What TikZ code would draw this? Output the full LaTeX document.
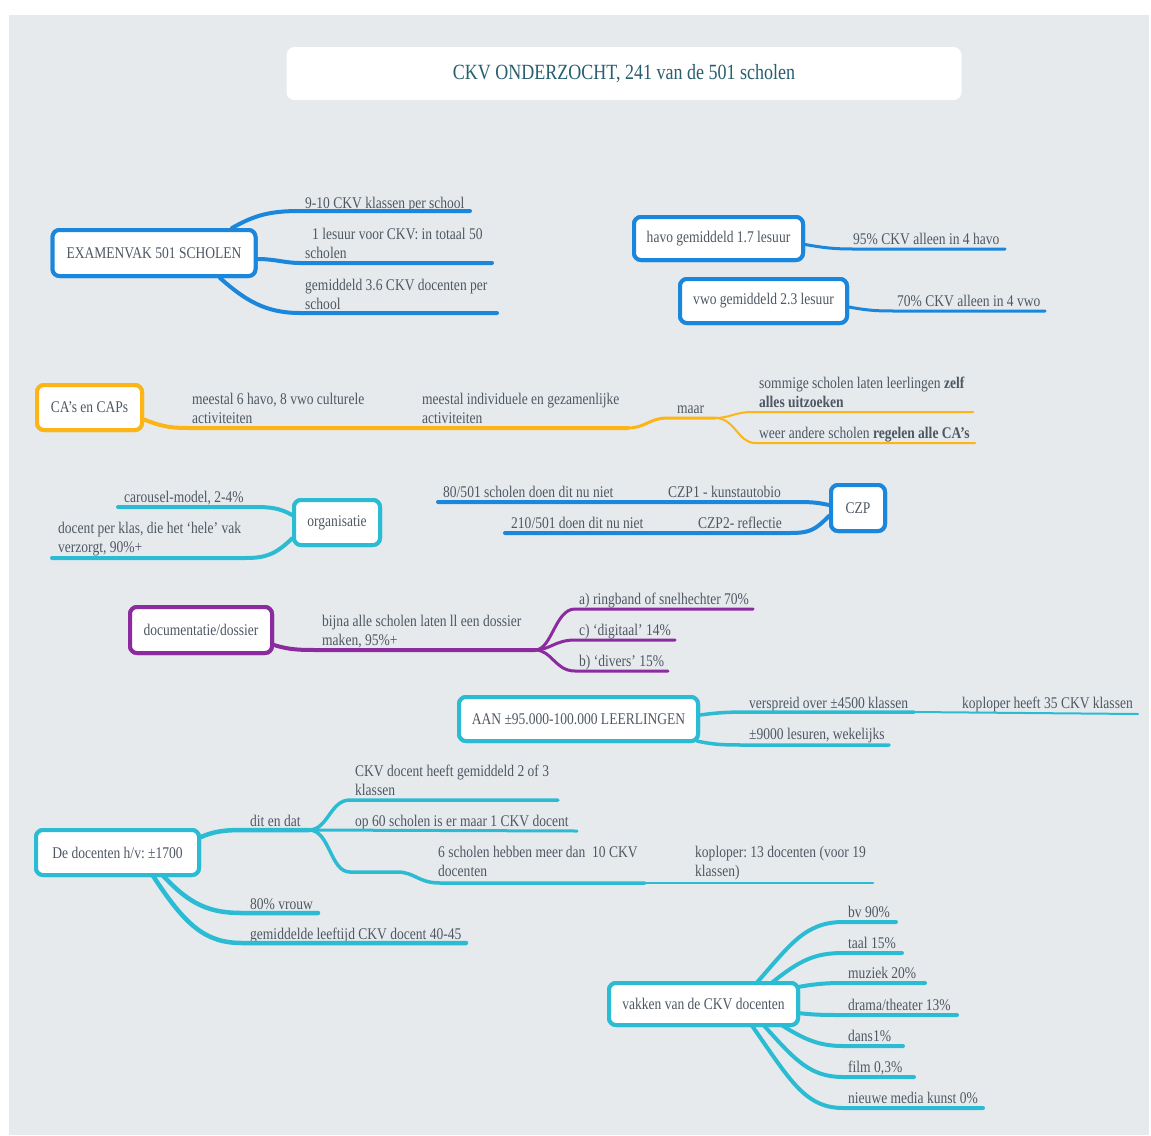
\documentclass[tikz,border=0pt]{standalone}
\usepackage{fontspec}
\setmainfont{Liberation Serif}[FakeStretch=0.83]
\frenchspacing
\definecolor{cblue}{RGB}{27,135,220}
\definecolor{corange}{RGB}{253,181,21}
\definecolor{cteal}{RGB}{43,188,212}
\definecolor{cpurple}{RGB}{139,43,159}
\definecolor{cbg}{RGB}{230,234,237}
\definecolor{ctxt}{RGB}{78,88,99}
\definecolor{ctitle}{RGB}{39,95,110}
\newcommand\fsz{\fontsize{16.3}{18.5}\selectfont\frenchspacing}
\newcommand\mylines[1]{\begin{tabular}[b]{@{}l@{}}#1\end{tabular}}
\tikzset{
  box/.style={draw=#1, line width=4pt, rounded corners=7pt, fill=white, text=ctxt, inner sep=0pt, font=\fsz},
  br/.style={draw=#1, line width=4pt, line cap=round},
  lbl/.style={anchor=base west, inner sep=0pt, text=ctxt, font=\fsz},
}
\begin{document}
\begin{tikzpicture}[x=1pt,y=-1pt]
\useasboundingbox (0,0) rectangle (1151,1135);
\fill[white] (0,0) rectangle (1151,1135);
\fill[cbg] (9,15) rectangle (1149,1135);

% title
\node[fill=white, rounded corners=8pt, minimum width=675pt, minimum height=53pt, inner sep=0pt, text=ctitle, font=\fontsize{21.7}{24}\selectfont] (title) at (624,73.5) {CKV ONDERZOCHT, 241 van de 501 scholen};

% ---------- EXAMENVAK ----------
\node[box=cblue, minimum width=203pt, minimum height=46pt] (ex) at (154,253) {EXAMENVAK 501 SCHOLEN};
\node[lbl] (ex1) at (305,208) {9-10 CKV klassen per school};
\node[lbl] (ex2) at (305,258) {\mylines{\hspace*{7pt}1 lesuur voor CKV: in totaal 50\\scholen}};
\node[lbl] (ex3) at (305,309) {\mylines{gemiddeld 3.6 CKV docenten per\\school}};
\coordinate (ex1e) at (470,211);
\coordinate (ex2e) at (492,263);
\coordinate (ex3e) at (497,313);
\draw[br=cblue] ([xshift=78pt]ex.north) .. controls (255,215) and (270,211) .. (300,211) -- (ex1e);
\draw[br=cblue] ([yshift=-6pt]ex.east) .. controls (275,259) and (285,263) .. (300,263) -- (ex2e);
\draw[br=cblue] ([xshift=66pt]ex.south) .. controls (245,300) and (265,313) .. (300,313) -- (ex3e);

% ---------- havo / vwo ----------
\node[box=cblue, minimum width=169pt, minimum height=43pt] (havo) at (718.5,238.5) {havo gemiddeld 1.7 lesuur};
\node[lbl] (havo1) at (853,244) {95\% CKV alleen in 4 havo};
\coordinate (havoe) at (1005,249);
\draw[br=cblue, line width=3pt] ([yshift=-6pt]havo.east) .. controls (825,248) and (835,249) .. (853,249) -- (havoe);

\node[box=cblue, minimum width=167pt, minimum height=44pt] (vwo) at (763.5,301) {vwo gemiddeld 2.3 lesuur};
\node[lbl] (vwo1) at (897,306) {70\% CKV alleen in 4 vwo};
\coordinate (vwoe) at (1045,311);
\draw[br=cblue, line width=3pt] ([yshift=-6pt]vwo.east) .. controls (870,311) and (880,311) .. (897,311) -- (vwoe);

% ---------- CA's ----------
\node[box=corange, minimum width=105pt, minimum height=45pt] (ca) at (89.5,407.5) {CA’s en CAPs};
\node[lbl] (ca1) at (192,423) {\mylines{meestal 6 havo, 8 vwo culturele\\activiteiten}};
\node[lbl] (ca2) at (422,423) {\mylines{meestal individuele en gezamenlijke\\activiteiten}};
\node[lbl] (ca3) at (677,413) {maar};
\node[lbl] (ca4) at (759,407) {\mylines{sommige scholen laten leerlingen \textbf{zelf}\\\textbf{alles uitzoeken}}};
\node[lbl] (ca5) at (759,438) {weer andere scholen \textbf{regelen alle CA’s}};
\coordinate (caA) at (628,428);
\coordinate (caM) at (715,418);
\coordinate (ca4e) at (973,412);
\coordinate (ca5e) at (975,443);
\draw[br=corange] ([yshift=-12pt]ca.east) .. controls (165,428) and (175,428) .. (192,428) -- (caA);
\draw[br=corange, line width=3pt] (caA) .. controls (645,428) and (650,418) .. (667,418) -- (caM);
\draw[br=corange, line width=2pt] (caM) .. controls (730,418) and (735,412) .. (752,412) -- (ca4e);
\draw[br=corange, line width=2pt] (caM) .. controls (735,418) and (738,443) .. (755,443) -- (ca5e);

% ---------- organisatie ----------
\node[box=cteal, minimum width=86pt, minimum height=45pt] (org) at (337,522.5) {organisatie};
\node[lbl] (org1) at (124,502) {carousel-model, 2-4\%};
\node[lbl] (org2) at (58,552) {\mylines{docent per klas, die het ‘hele’ vak\\verzorgt, 90\%+}};
\coordinate (org1e) at (118,507);
\coordinate (org2e) at (52,558);
\draw[br=cteal] ([yshift=7.5pt]org.west) .. controls (280,508) and (270,507) .. (255,507) -- (org1e);
\draw[br=cteal] ([yshift=-16pt]org.west) .. controls (275,555) and (265,558) .. (245,558) -- (org2e);

% ---------- CZP ----------
\node[box=cblue, minimum width=54pt, minimum height=46pt] (czp) at (858,508) {CZP};
\node[lbl] (czp1) at (668,497) {CZP1 - kunstautobio};
\node[lbl] (czp1b) at (443,497) {80/501 scholen doen dit nu niet};
\node[lbl] (czp2) at (698,528) {CZP2- reflectie};
\node[lbl] (czp2b) at (511,528) {210/501 doen dit nu niet};
\coordinate (czp1e) at (438,502);
\coordinate (czp2e) at (505,533);
\draw[br=cblue] ([yshift=3pt]czp.west) .. controls (815,502) and (810,502) .. (790,502) -- (czp1e);
\draw[br=cblue] ([yshift=-8pt]czp.west) .. controls (815,530) and (810,533) .. (790,533) -- (czp2e);

% ---------- documentatie ----------
\node[box=cpurple, minimum width=142pt, minimum height=46pt] (doc) at (201,630) {documentatie/dossier};
\node[lbl] (doc1) at (322,645) {\mylines{bijna alle scholen laten ll een dossier\\maken, 95\%+}};
\node[lbl] (doca) at (579,604) {a) ringband of snelhechter 70\%};
\node[lbl] (docc) at (579,635) {c) ‘digitaal’ 14\%};
\node[lbl] (docb) at (579,666) {b) ‘divers’ 15\%};
\coordinate (docM) at (535,650);
\coordinate (docae) at (753,609);
\coordinate (docce) at (675,640);
\coordinate (docbe) at (668,671);
\draw[br=cpurple] ([yshift=-15pt]doc.east) .. controls (290,650) and (300,650) .. (320,650) -- (docM);
\draw[br=cpurple, line width=3pt] (docM) .. controls (552,650) and (555,609) .. (575,609) -- (docae);
\draw[br=cpurple, line width=3pt] (docM) .. controls (550,650) and (555,640) .. (575,640) -- (docce);
\draw[br=cpurple, line width=3pt] (docM) .. controls (552,650) and (555,671) .. (575,671) -- (docbe);

% ---------- AAN ----------
\node[box=cteal, minimum width=239pt, minimum height=44pt] (aan) at (578.5,719) {AAN ±95.000-100.000 LEERLINGEN};
\node[lbl] (aan1) at (749,708) {verspreid over ±4500 klassen};
\node[lbl] (aan1b) at (962,708) {koploper heeft 35 CKV klassen};
\node[lbl] (aan2) at (749,739) {±9000 lesuren, wekelijks};
\coordinate (aanM) at (914,712);
\coordinate (aan1e) at (1138,714);
\coordinate (aan2e) at (889,745);
\draw[br=cteal, line width=3.5pt] ([yshift=4pt]aan.east) .. controls (715,713) and (725,712) .. (748,712) -- (aanM);
\draw[br=cteal, line width=2pt] (aanM) -- (aan1e);
\draw[br=cteal, line width=3.5pt] ([xshift=-3pt,yshift=2pt]aan.south east) .. controls (715,745) and (725,745) .. (748,745) -- (aan2e);

% ---------- docenten ----------
\node[box=cteal, minimum width=163pt, minimum height=45pt] (dc) at (117.5,852.5) {De docenten h/v: ±1700};
\node[lbl] (dc1) at (250,826) {dit en dat};
\node[lbl] (dc1a) at (355,795) {\mylines{CKV docent heeft gemiddeld 2 of 3\\klassen}};
\node[lbl] (dc1b) at (355,826) {op 60 scholen is er maar 1 CKV docent};
\node[lbl] (dc1c) at (438,876) {\mylines{6 scholen hebben meer dan\ \ 10 CKV\\docenten}};
\node[lbl] (dc1d) at (695,876) {\mylines{koploper: 13 docenten (voor 19\\klassen)}};
\node[lbl] (dc2) at (250,909) {80\% vrouw};
\node[lbl] (dc3) at (250,939) {gemiddelde leeftijd CKV docent 40-45};
\coordinate (dcM) at (309,830);
\coordinate (dc1ae) at (558,800);
\coordinate (dc1be) at (577,831);
\coordinate (dc1cM) at (645,883);
\coordinate (dc1de) at (873,883);
\coordinate (dc2e) at (318,913);
\coordinate (dc3e) at (466,943);
\draw[br=cteal, line width=4.5pt] ([yshift=15.5pt]dc.east) .. controls (215,831) and (225,830) .. (245,830) -- (dcM);
\draw[br=cteal, line width=3.5pt] (dcM) .. controls (328,830) and (330,800) .. (350,800) -- (dc1ae);
\draw[br=cteal, line width=3pt] (dcM) -- (dc1be);
\draw[br=cteal, line width=3.5pt] (dcM) .. controls (330,830) and (330,872) .. (350,872) -- (397,872) .. controls (415,872) and (418,883) .. (440,883) -- (dc1cM);
\draw[br=cteal, line width=2.5pt] (dc1cM) -- (dc1de);
\draw[br=cteal, line width=4.5pt] ([xshift=45pt,yshift=2pt]dc.south) .. controls (190,905) and (210,913) .. (242,913) -- (dc2e);
\draw[br=cteal, line width=4.5pt] ([xshift=35pt,yshift=2pt]dc.south) .. controls (185,925) and (205,943) .. (242,943) -- (dc3e);

% ---------- vakken ----------
\node[box=cteal, minimum width=189pt, minimum height=42pt] (vk) at (703.5,1004) {vakken van de CKV docenten};
\node[lbl] (vk1) at (848,917) {bv 90\%};
\node[lbl] (vk2) at (848,948) {taal 15\%};
\node[lbl] (vk3) at (848,978) {muziek 20\%};
\node[lbl] (vk4) at (848,1010) {drama/theater 13\%};
\node[lbl] (vk5) at (848,1041) {dans1\%};
\node[lbl] (vk6) at (848,1072) {film 0,3\%};
\node[lbl] (vk7) at (848,1103) {nieuwe media kunst 0\%};
\coordinate (vk1e) at (896,922);
\coordinate (vk2e) at (902,953);
\coordinate (vk3e) at (925,983);
\coordinate (vk4e) at (957,1015);
\coordinate (vk5e) at (903,1046);
\coordinate (vk6e) at (914,1077);
\coordinate (vk7e) at (983,1108);
\draw[br=cteal] ([xshift=53pt,yshift=-2pt]vk.north) .. controls (790,945) and (805,922) .. (843,922) -- (vk1e);
\draw[br=cteal] ([xshift=68pt,yshift=-2pt]vk.north) .. controls (800,960) and (815,953) .. (843,953) -- (vk2e);
\draw[br=cteal] ([yshift=17pt,xshift=-2pt]vk.east) .. controls (815,984) and (825,983) .. (843,983) -- (vk3e);
\draw[br=cteal] ([yshift=-9pt,xshift=-2pt]vk.east) .. controls (815,1015) and (825,1015) .. (843,1015) -- (vk4e);
\draw[br=cteal] ([xshift=78pt,yshift=2pt]vk.south) .. controls (805,1040) and (820,1046) .. (843,1046) -- (vk5e);
\draw[br=cteal] ([xshift=60pt,yshift=2pt]vk.south) .. controls (795,1060) and (810,1077) .. (843,1077) -- (vk6e);
\draw[br=cteal] ([xshift=48pt,yshift=2pt]vk.south) .. controls (790,1080) and (805,1108) .. (843,1108) -- (vk7e);

% redraw boxes on top of connector ends
\node[box=cblue, minimum width=203pt, minimum height=46pt] at (ex) {EXAMENVAK 501 SCHOLEN};
\node[box=cblue, minimum width=169pt, minimum height=43pt] at (havo) {havo gemiddeld 1.7 lesuur};
\node[box=cblue, minimum width=167pt, minimum height=44pt] at (vwo) {vwo gemiddeld 2.3 lesuur};
\node[box=corange, minimum width=105pt, minimum height=45pt] at (ca) {CA’s en CAPs};
\node[box=cteal, minimum width=86pt, minimum height=45pt] at (org) {organisatie};
\node[box=cblue, minimum width=54pt, minimum height=46pt] at (czp) {CZP};
\node[box=cpurple, minimum width=142pt, minimum height=46pt] at (doc) {documentatie/dossier};
\node[box=cteal, minimum width=239pt, minimum height=44pt] at (aan) {AAN ±95.000-100.000 LEERLINGEN};
\node[box=cteal, minimum width=163pt, minimum height=45pt] at (dc) {De docenten h/v: ±1700};
\node[box=cteal, minimum width=189pt, minimum height=42pt] at (vk) {vakken van de CKV docenten};
\end{tikzpicture}
\end{document}
